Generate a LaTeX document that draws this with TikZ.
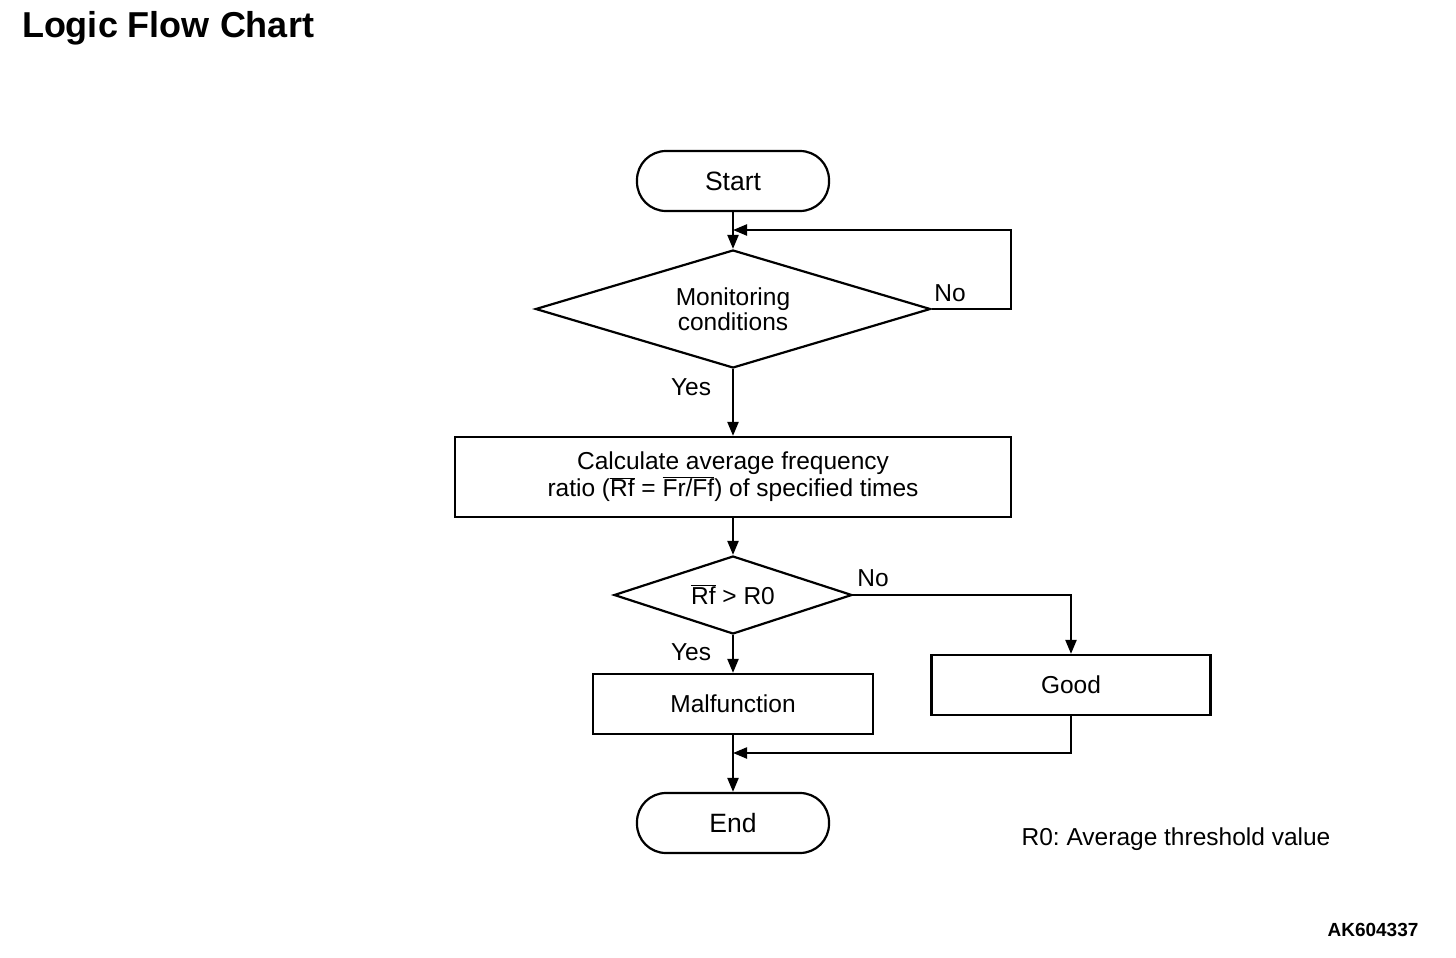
\documentclass[tikz,border=0pt]{standalone}
\usepackage{fontspec}
\setmainfont{Liberation Sans}
\usetikzlibrary{                          % TikZ libraries
                shapes,                   % .
                arrows.meta,              % .
                calc}

\begin{document}
\frenchspacing
\begin{tikzpicture}[x=1pt,y=-1pt,line width=2.2pt
                    ]
                % define styles
\tikzset{term/.style={rectangle,
                       rounded corners=29pt,
                       draw=black,
                       minimum width=192pt,
                       minimum height=60pt,
                       inner sep=0,
                       font=\fontsize{26.5}{30}\selectfont,
                       },
         cond/.style={diamond,
                       draw=black,
                       aspect=3.35,
                       inner sep=0,
                       font=\fontsize{24.5}{25}\selectfont,
                       align=center,
                       },
         proc/.style={rectangle,
                       draw=black,
                       inner sep=0,
                       minimum height=60pt,
                       font=\fontsize{24.5}{27}\selectfont,
                       align=center,
                       },
         lbl/.style={font=\fontsize{24.5}{27}\selectfont, inner sep=0},
         flow/.style={-{Triangle[length=14pt,width=11pt]}}
}

% frame
\useasboundingbox (0,0) rectangle (1456,958);

% title
\node[font=\fontsize{36}{40}\selectfont\bfseries, inner sep=0] (title) at (168,28) {Logic Flow Chart};

% nodes
\node[term] (start) at (733,181) {Start};
\node[cond, minimum width=395pt, minimum height=118pt] (mon) at (733,309) {Monitoring\\conditions};
\node[proc, minimum width=556pt, minimum height=80pt] (calc) at (733,477)
    {Calculate average frequency\\ratio ($\overline{\mbox{Rf}}$ = $\overline{\mbox{Fr/Ff}}$) of specified times};
\node[cond, minimum width=238pt, minimum height=78pt] (cmp) at (733,595) {$\overline{\mbox{Rf}}$ > R0};
\node[proc, minimum width=280pt] (mal) at (733,704) {Malfunction};
\node[proc, minimum width=279pt] (good) at (1071,685) {Good};
\node[term] (end) at (733,823) {End};

% helper points
\coordinate (loop) at (1011,230);
\coordinate (merge) at (733,753);

% connectors
\draw[flow] (start) -- (mon);
\draw[flow] (mon.east) -- (loop |- mon.east) -- (loop) -- (start.south |- loop);
\draw[flow] (mon) -- (calc);
\draw[flow] (calc) -- (cmp);
\draw[flow] (cmp.east) -- (good.north |- cmp.east) -- (good.north);
\draw[flow] (cmp) -- (mal);
\draw[flow] (mal) -- (end);
\draw[flow] (good.south) -- (good.south |- merge) -- (merge);

% labels
\node[lbl] at (950,293) {No};
\node[lbl] at (691,387) {Yes};
\node[lbl] at (873,578) {No};
\node[lbl] at (691,652) {Yes};
\node[lbl] (note) at (1176,839) {R0: Average threshold value};
\node[font=\fontsize{19}{22}\selectfont\bfseries, inner sep=0] (code) at (1373,930) {AK604337};

\end{tikzpicture}
\end{document}
